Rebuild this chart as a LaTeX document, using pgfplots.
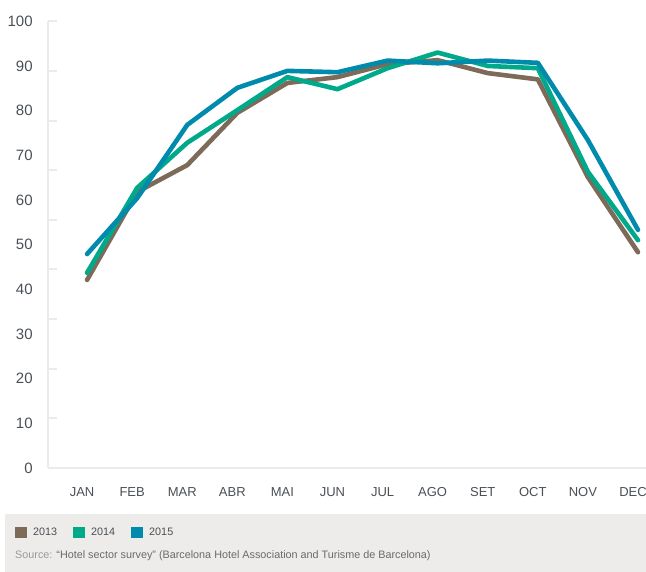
\documentclass[border=0pt]{standalone}
\usepackage{pgfplots}
\pgfplotsset{compat=1.18}
\usepackage{fontspec}
\setmainfont{Liberation Sans}
\definecolor{c2013}{HTML}{7D6A58}
\definecolor{c2014}{HTML}{00A98A}
\definecolor{c2015}{HTML}{008BAC}
\definecolor{axgray}{HTML}{EBEBEB}
\definecolor{band}{HTML}{EEECEA}
\definecolor{txt}{HTML}{4A4F55}
\begin{document}
\begin{tikzpicture}[x=1pt,y=1pt]
\useasboundingbox (0,0) rectangle (646,572);
\fill[band] (5,0) rectangle (646,58);
\begin{axis}[
  scale only axis,
  width=598pt, height=446.7pt,
  at={(48pt,104pt)}, anchor=south west,
  xmin=-0.78, xmax=11.16,
  ymin=0, ymax=100,
  axis lines=left,
  axis line style={axgray, line width=2.5pt, -},
  xtick={0,...,11},
  xticklabels={JAN,FEB,MAR,ABR,MAI,JUN,JUL,AGO,SET,OCT,NOV,DEC},
  xtick style={draw=none},
  xticklabel style={anchor=base, inner sep=0pt, yshift=-26pt, xshift=-5pt, font=\fontsize{13}{15}\selectfont, text=txt},
  ytick={0,10,...,100},
  ytick style={draw=none},
  yticklabel style={anchor=east, inner sep=0pt, xshift=-13pt, font=\fontsize{15}{17}\selectfont, text=txt},
  extra y ticks={11.111,22.222,33.333,44.444,55.556,66.667,77.778,88.889,100},
  extra y tick labels={},
  extra y tick style={tick align=inside, major tick length=9pt, ytick style={draw=axgray, line width=2pt}},
  /pgf/number format/assume math mode=true,
  clip=false,
  legend style={at={(-0.0552,-0.1444)}, anchor=west, draw=none, fill=none, inner sep=0pt,
    font=\fontsize{10.8}{13}\selectfont, text=txt,
    nodes={inner sep=0pt},
    /tikz/every odd column/.append style={column sep=6pt},
    /tikz/every even column/.append style={column sep=16pt}},
  legend columns=3,
  legend cell align=left,
  legend image code/.code={\fill[#1, draw=none] (0pt,-5.5pt) rectangle (12pt,5.5pt);},
]
\addplot[c2013, line width=4.6pt, line join=round, line cap=round] coordinates {
(0,42.1) (1,61.8) (2,67.8) (3,79.5) (4,86.2) (5,87.5) (6,90.4) (7,91.3) (8,88.4) (9,87.0) (10,65.1) (11,48.3)};
\addplot[c2014, line width=4.6pt, line join=round, line cap=round] coordinates {
(0,43.7) (1,62.7) (2,72.8) (3,80.1) (4,87.5) (5,84.8) (6,89.5) (7,93.0) (8,90.0) (9,89.5) (10,66.3) (11,51.0)};
\addplot[c2015, line width=4.6pt, line join=round, line cap=round] coordinates {
(0,47.9) (1,60.4) (2,76.8) (3,85.1) (4,88.9) (5,88.6) (6,91.2) (7,90.6) (8,91.2) (9,90.7) (10,73.4) (11,53.3)};
\legend{2013,2014,2015}
\end{axis}
\node[anchor=west, inner sep=0pt, font=\fontsize{10.8}{13}\selectfont] at (15,16)
  {\textcolor[HTML]{9A9A9A}{Source:} \textcolor[HTML]{6A6A6A}{“Hotel sector survey” (Barcelona Hotel Association and Turisme de Barcelona)}};
\end{tikzpicture}
\end{document}
